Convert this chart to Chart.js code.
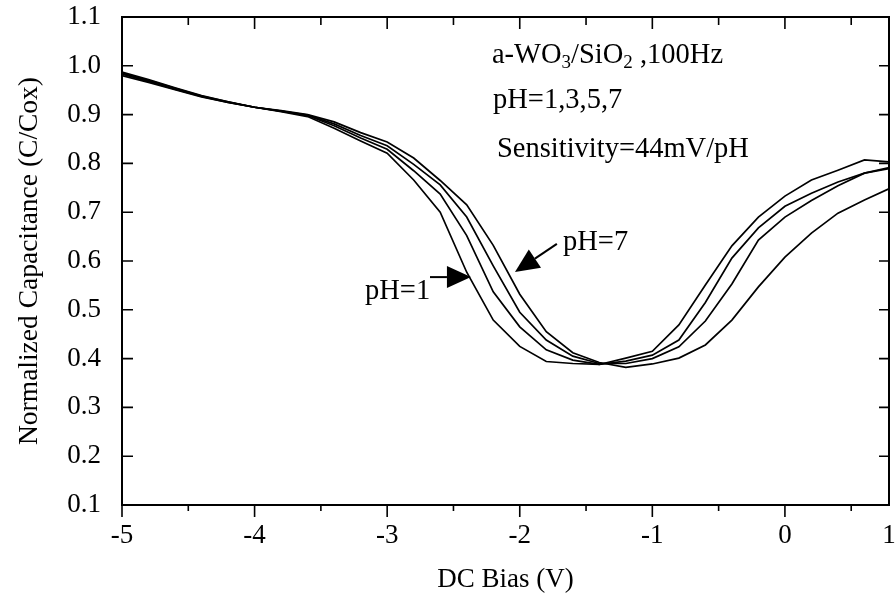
<!DOCTYPE html>
<html>
<head>
<meta charset="utf-8">
<script src="https://cdn.jsdelivr.net/npm/chart.js@4.4.1/dist/chart.umd.min.js"></script>
<style>
  body { margin: 0; background: #fff; }
</style>
</head>
<body>
<canvas id="myChart" width="896" height="599"></canvas>
<script>
  // DC bias (V) and normalized capacitance
  const biasV = [-5.0, -4.8, -4.6, -4.4, -4.2, -4.0, -3.8, -3.6, -3.4, -3.2,
                 -3.0, -2.8, -2.6, -2.4, -2.2, -2.0, -1.8, -1.6, -1.4, -1.2,
                 -1.0, -0.8, -0.6, -0.4, -0.2, 0.0, 0.2, 0.4, 0.6, 0.8];

  const capPH1 = [0.980, 0.966, 0.951, 0.936, 0.925, 0.915, 0.906, 0.896, 0.872, 0.846,
                  0.821, 0.766, 0.700, 0.577, 0.479, 0.425, 0.394, 0.390, 0.388, 0.401,
                  0.415, 0.469, 0.551, 0.631, 0.690, 0.733, 0.766, 0.786, 0.807, 0.803];
  const capPH3 = [0.983, 0.968, 0.952, 0.937, 0.925, 0.915, 0.907, 0.898, 0.877, 0.852,
                  0.829, 0.785, 0.737, 0.652, 0.537, 0.465, 0.418, 0.397, 0.388, 0.395,
                  0.407, 0.438, 0.515, 0.606, 0.668, 0.712, 0.739, 0.762, 0.780, 0.790];
  const capPH5 = [0.985, 0.970, 0.954, 0.938, 0.926, 0.915, 0.907, 0.899, 0.881, 0.857,
                  0.836, 0.798, 0.756, 0.690, 0.590, 0.495, 0.438, 0.405, 0.390, 0.390,
                  0.400, 0.424, 0.477, 0.553, 0.643, 0.690, 0.724, 0.754, 0.780, 0.792];
  const capPH7 = [0.987, 0.972, 0.955, 0.939, 0.926, 0.915, 0.908, 0.900, 0.885, 0.863,
                  0.844, 0.811, 0.765, 0.715, 0.632, 0.532, 0.455, 0.412, 0.392, 0.382,
                  0.389, 0.401, 0.428, 0.479, 0.547, 0.608, 0.657, 0.698, 0.725, 0.750];

  const seriesNames = ['pH=1', 'pH=3', 'pH=5', 'pH=7'];

  // the scan's frame stops short of 1 V, the last label sits on the frame edge
  const xMin = -5, xMax = 0.785;
  const xTickValues = [-5, -4, -3, -2, -1, 0, xMax];
  const xTickLabels = ['-5', '-4', '-3', '-2', '-1', '0', '1'];
  const xMarkValues = [-5, -4.5, -4, -3.5, -3, -2.5, -2, -1.5, -1, -0.5, 0, 0.5];
  const yTickValues = [0.1, 0.2, 0.3, 0.4, 0.5, 0.6, 0.7, 0.8, 0.9, 1.0, 1.1];
  const yTickLabels = ['0.1', '0.2', '0.3', '0.4', '0.5', '0.6', '0.7', '0.8', '0.9', '1.0', '1.1'];

  const serif = "'Liberation Serif', 'Times New Roman', serif";

  function toPoints(ys) {
    return biasV.map((v, i) => ({ x: v, y: ys[i] }));
  }

  // frame with inward ticks (outward on the bottom), like the original plot
  const frameTicks = {
    id: 'frameTicks',
    afterDatasetsDraw(chart) {
      const { ctx, chartArea: a, scales: { x, y } } = chart;
      ctx.save();
      ctx.strokeStyle = '#000';
      ctx.lineWidth = 2;
      ctx.strokeRect(a.left, a.top, a.right - a.left, a.bottom - a.top);
      ctx.lineWidth = 1.6;
      ctx.beginPath();
      xMarkValues.forEach(v => {
        const px = x.getPixelForValue(v);
        const major = Number.isInteger(v);
        ctx.moveTo(px, a.bottom);
        ctx.lineTo(px, a.bottom + (major ? 12 : 6));
        ctx.moveTo(px, a.top);
        ctx.lineTo(px, a.top + (major ? 12 : 8));
      });
      yTickValues.forEach(v => {
        const py = y.getPixelForValue(v);
        ctx.moveTo(a.left, py);
        ctx.lineTo(a.left + 11, py);
        ctx.moveTo(a.right, py);
        ctx.lineTo(a.right - 10, py);
      });
      ctx.stroke();
      ctx.restore();
    }
  };

  const notes = [
    { parts: [['a-WO', 0], ['3', 1], ['/SiO', 0], ['2', 1], [' ,100Hz', 0]], x: -2.210, y: 1.006 },
    { parts: [['pH=1,3,5,7', 0]], x: -2.202, y: 0.9135 },
    { parts: [['Sensitivity=44mV/pH', 0]], x: -2.172, y: 0.813 },
    { parts: [['pH=7', 0]], x: -1.674, y: 0.6225 },
    { parts: [['pH=1', 0]], x: -3.167, y: 0.522 }
  ];
  const arrows = [
    { from: [-2.677, 0.567], to: [-2.368, 0.567] },
    { from: [-1.720, 0.635], to: [-2.036, 0.5775] }
  ];

  const annotations = {
    id: 'annotations',
    afterDraw(chart) {
      const { ctx, scales: { x, y } } = chart;
      ctx.save();
      ctx.fillStyle = '#000';
      ctx.strokeStyle = '#000';
      ctx.textBaseline = 'alphabetic';
      ctx.textAlign = 'left';
      notes.forEach(n => {
        let px = x.getPixelForValue(n.x);
        const py = y.getPixelForValue(n.y);
        n.parts.forEach(([t, sub]) => {
          ctx.font = (sub ? '19px ' : '28.5px ') + serif;
          ctx.fillText(t, px, sub ? py + 5 : py);
          px += ctx.measureText(t).width;
        });
      });
      arrows.forEach(ar => {
        const x1 = x.getPixelForValue(ar.from[0]), y1 = y.getPixelForValue(ar.from[1]);
        const x2 = x.getPixelForValue(ar.to[0]), y2 = y.getPixelForValue(ar.to[1]);
        const ang = Math.atan2(y2 - y1, x2 - x1);
        const len = 24, half = 11;
        const bx = x2 - len * Math.cos(ang), by = y2 - len * Math.sin(ang);
        ctx.lineWidth = 2;
        ctx.beginPath();
        ctx.moveTo(x1, y1);
        ctx.lineTo(bx, by);
        ctx.stroke();
        ctx.beginPath();
        ctx.moveTo(x2, y2);
        ctx.lineTo(bx + half * Math.sin(ang), by - half * Math.cos(ang));
        ctx.lineTo(bx - half * Math.sin(ang), by + half * Math.cos(ang));
        ctx.closePath();
        ctx.fill();
      });
      ctx.restore();
    }
  };

  const ctx = document.getElementById('myChart').getContext('2d');
  const myChart = new Chart(ctx, {
    type: 'line',
    data: {
      datasets: [capPH1, capPH3, capPH5, capPH7].map((ys, i) => ({
        label: seriesNames[i],
        data: toPoints(ys),
        borderColor: '#000',
        borderWidth: 1.7,
        pointRadius: 0,
        tension: 0,
        fill: false
      }))
    },
    options: {
      responsive: false,
      animation: false,
      layout: { padding: { top: 17, right: 7, left: 0, bottom: 0 } },
      plugins: { legend: { display: false }, tooltip: { enabled: false } },
      scales: {
        x: {
          type: 'linear',
          min: xMin,
          max: xMax,
          grid: { display: false, drawTicks: false },
          border: { display: false },
          afterBuildTicks: s => { s.ticks = xTickValues.map(v => ({ value: v })); },
          afterFit: s => { s.height = 94; s.paddingLeft = 0; s.paddingRight = 0; },
          ticks: {
            padding: 15,
            maxRotation: 0,
            color: '#000',
            font: { family: serif, size: 27 },
            callback: (v, i) => xTickLabels[i]
          },
          title: {
            display: true,
            text: 'DC Bias (V)',
            color: '#000',
            font: { family: serif, size: 27 },
            padding: { top: 0, bottom: 3 }
          }
        },
        y: {
          min: 0.1,
          max: 1.1,
          grid: { display: false, drawTicks: false },
          border: { display: false },
          afterBuildTicks: s => { s.ticks = yTickValues.map(v => ({ value: v })); },
          afterFit: s => { s.width = 122; s.paddingTop = 0; s.paddingBottom = 0; },
          ticks: {
            padding: 21,
            color: '#000',
            font: { family: serif, size: 27 },
            callback: (v, i) => yTickLabels[i]
          },
          title: {
            display: true,
            text: 'Normalized Capacitance (C/Cox)',
            color: '#000',
            font: { family: serif, size: 27.5 },
            padding: { top: 13, bottom: 0 }
          }
        }
      }
    },
    plugins: [frameTicks, annotations]
  });
</script>
</body>
</html>
